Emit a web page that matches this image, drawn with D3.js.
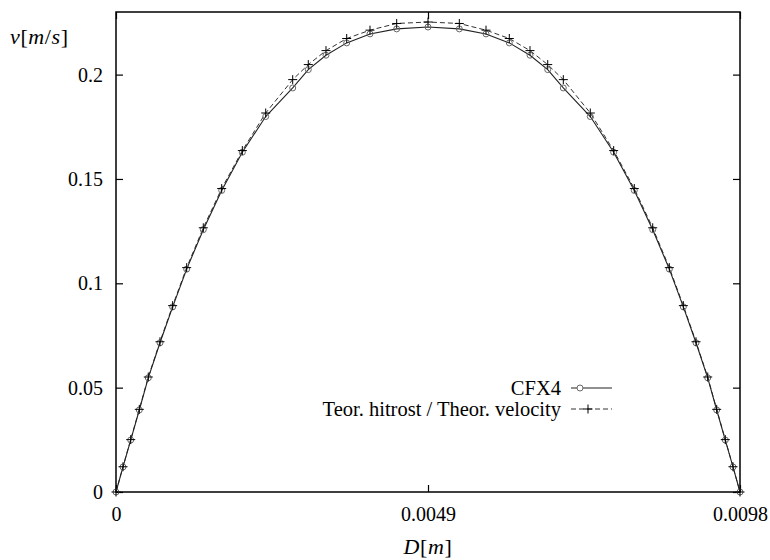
<!DOCTYPE html>
<html lang="en">
<head>
    <meta charset="UTF-8">
    <title>Velocity profile</title>
    <script src="https://d3js.org/d3.v7.min.js"></script>
    <style>
        body { margin: 0; background: #fff; }
        svg { display: block; }
        text { font-family: "Liberation Serif", "DejaVu Serif", serif; font-size: 20px; fill: #000; }
        .axis text { font-family: "Liberation Serif", "DejaVu Serif", serif; font-size: 20px; }
        .axis line { stroke: #000; stroke-width: 1.2; }
        .axis path { display: none; }
        .legend text { font-size: 20.5px; }
        .title { font-size: 22px; letter-spacing: 0.6px; }
    </style>
</head>
<body>
<svg width="770" height="560"></svg>
<script>
// radial position across the pipe [m]
const positions = [
    0, 0.000110, 0.000231, 0.000366, 0.000507, 0.000691, 0.000890, 0.001110, 0.001371,
    0.001660, 0.001984, 0.002351, 0.002775, 0.003020, 0.003298, 0.003623, 0.003989, 0.004408,
    0.0049,
    0.005392, 0.005811, 0.006177, 0.006502, 0.006780, 0.007025, 0.007449, 0.007816, 0.008140,
    0.008429, 0.008690, 0.008910, 0.009109, 0.009293, 0.009434, 0.009569, 0.009690, 0.0098
];
// CFX4 velocity [m/s]
const cfx4 = [
    0, 0.0120, 0.0249, 0.0393, 0.0547, 0.0715, 0.0887, 0.1068, 0.1257,
    0.1445, 0.1628, 0.1799, 0.1936, 0.2024, 0.2093, 0.2152, 0.2195, 0.2219,
    0.2228,
    0.2219, 0.2195, 0.2152, 0.2093, 0.2024, 0.1936, 0.1799, 0.1628, 0.1445,
    0.1257, 0.1068, 0.0887, 0.0715, 0.0547, 0.0393, 0.0249, 0.0120, 0
];
// theoretical velocity [m/s]
const theory = [
    0, 0.0121, 0.0251, 0.0396, 0.0551, 0.0720, 0.0893, 0.1075, 0.1266,
    0.1454, 0.1636, 0.1816, 0.1976, 0.2048, 0.2115, 0.2173, 0.2213, 0.2245,
    0.2252,
    0.2245, 0.2213, 0.2173, 0.2115, 0.2048, 0.1976, 0.1816, 0.1636, 0.1454,
    0.1266, 0.1075, 0.0893, 0.0720, 0.0551, 0.0396, 0.0251, 0.0121, 0
];
const xTicks = [0, 0.0049, 0.0098];
const yTicks = [0, 0.05, 0.1, 0.15, 0.2];
const seriesNames = ["CFX4", "Teor. hitrost / Theor. velocity"];

const svg = d3.select("svg");
const mLeft = 116, mRight = 740, mTop = 12, mBottom = 492;

const x = d3.scaleLinear().domain([0, 0.0098]).range([mLeft, mRight]);
const y = d3.scaleLinear().domain([0, 0.23]).range([mBottom, mTop]);

// axes (ticks point inward, mirrored on top/right)
svg.append("g").attr("class", "axis")
    .attr("transform", `translate(0,${mBottom})`)
    .call(d3.axisBottom(x).tickValues(xTicks).tickFormat(d => d === 0 ? "0" : String(d))
        .tickSizeInner(-7).tickSizeOuter(0).tickPadding(15));
svg.append("g").attr("class", "axis")
    .attr("transform", `translate(0,${mTop})`)
    .call(d3.axisTop(x).tickValues(xTicks).tickFormat("").tickSizeInner(-7).tickSizeOuter(0));
svg.append("g").attr("class", "axis")
    .attr("transform", `translate(${mLeft},0)`)
    .call(d3.axisLeft(y).tickValues(yTicks).tickFormat(d => String(d))
        .tickSizeInner(-7).tickSizeOuter(0).tickPadding(13));
svg.append("g").attr("class", "axis")
    .attr("transform", `translate(${mRight},0)`)
    .call(d3.axisRight(y).tickValues(yTicks).tickFormat("").tickSizeInner(-7).tickSizeOuter(0));

svg.append("rect")
    .attr("x", mLeft).attr("y", mTop)
    .attr("width", mRight - mLeft).attr("height", mBottom - mTop)
    .attr("fill", "none").attr("stroke", "#000").attr("stroke-width", 1.5);

const cfxData = positions.map((p, i) => [p, cfx4[i]]);
const theoryData = positions.map((p, i) => [p, theory[i]]);
const line = d3.line().x(d => x(d[0])).y(d => y(d[1]));

// theoretical: dashed line with plus markers
svg.append("path").datum(theoryData)
    .attr("d", line).attr("fill", "none")
    .attr("stroke", "#333").attr("stroke-width", 1).attr("stroke-dasharray", "5,3");

// CFX4: solid line with circle markers
svg.append("path").datum(cfxData)
    .attr("d", line).attr("fill", "none")
    .attr("stroke", "#222").attr("stroke-width", 1.1);

svg.append("g").selectAll("circle").data(cfxData).join("circle")
    .attr("cx", d => x(d[0])).attr("cy", d => y(d[1])).attr("r", 3)
    .attr("fill", "none").attr("stroke", "#666").attr("stroke-width", 1);

function plus(g, cx, cy) {
    g.append("line").attr("x1", cx - 4.5).attr("x2", cx + 4.5).attr("y1", cy).attr("y2", cy);
    g.append("line").attr("x1", cx).attr("x2", cx).attr("y1", cy - 4.5).attr("y2", cy + 4.5);
}
const plusG = svg.append("g").attr("stroke", "#000").attr("stroke-width", 1);
theoryData.forEach(d => plus(plusG, x(d[0]), y(d[1])));

// legend
const legX = 561, legY = 388, legStep = 21;
const legend = svg.append("g").attr("class", "legend");
legend.append("text").attr("x", legX).attr("y", legY).attr("dy", "0.35em")
    .attr("text-anchor", "end").text(seriesNames[0]);
legend.append("line").attr("x1", 571).attr("x2", 612).attr("y1", legY).attr("y2", legY)
    .attr("stroke", "#222").attr("stroke-width", 1.1);
legend.append("circle").attr("cx", 580).attr("cy", legY).attr("r", 3)
    .attr("fill", "#fff").attr("stroke", "#666");

legend.append("text").attr("x", legX).attr("y", legY + legStep).attr("dy", "0.35em")
    .attr("text-anchor", "end").text(seriesNames[1]);
legend.append("line").attr("x1", 571).attr("x2", 612).attr("y1", legY + legStep).attr("y2", legY + legStep)
    .attr("stroke", "#333").attr("stroke-width", 1).attr("stroke-dasharray", "5,3");
const legPlus = legend.append("g").attr("stroke", "#000").attr("stroke-width", 1);
plus(legPlus, 588, legY + legStep);

// axis titles
const yTitle = svg.append("text").attr("class", "title").attr("x", 10).attr("y", 44);
yTitle.append("tspan").attr("font-style", "italic").text("v");
yTitle.append("tspan").text("[");
yTitle.append("tspan").attr("font-style", "italic").text("m");
yTitle.append("tspan").text("/");
yTitle.append("tspan").attr("font-style", "italic").text("s");
yTitle.append("tspan").text("]");

const xTitle = svg.append("text").attr("class", "title")
    .attr("x", (mLeft + mRight) / 2).attr("y", 554).attr("text-anchor", "middle");
xTitle.append("tspan").attr("font-style", "italic").text("D");
xTitle.append("tspan").text("[");
xTitle.append("tspan").attr("font-style", "italic").text("m");
xTitle.append("tspan").text("]");
</script>
</body>
</html>
